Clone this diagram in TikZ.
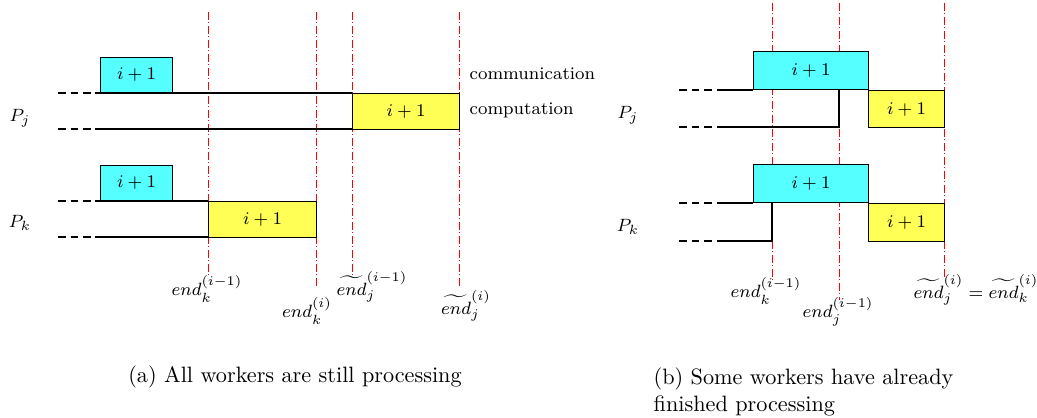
\documentclass[tikz,border=0pt]{standalone}
\usetikzlibrary{positioning}

\begin{document}
\begin{tikzpicture}[
    x=0.45pt, y=-0.45pt,
    every node/.style={font=\footnotesize, inner sep=1pt},
    commbox/.style={
        draw,
        fill=boxcyan,
        inner sep=0pt,
        line width=0.5pt,
        anchor=south west,
    },
    compbox/.style={
        draw,
        fill=boxyellow,
        inner sep=0pt,
        line width=0.5pt,
        anchor=north west,
    },
    tline/.style={line width=0.5pt},
    lead/.style={line width=0.5pt, dash pattern=on 3.5pt off 2.2pt},
    endline/.style={red, line width=0.4pt, dash pattern=on 3.4pt off 1.2pt on 0.5pt off 1.2pt},
    caption/.style={font=\normalsize}
]

% Colors
\definecolor{boxcyan}{HTML}{55FFFF}
\definecolor{boxyellow}{HTML}{FFFF55}

% Unit length (one pixel)
\def\u{0.45pt}

\useasboundingbox (0,0) rectangle (1037,417);

%%% (a) All workers are still processing

% End-time markers
\draw[endline] (208,12) -- (208,275);
\draw[endline] (316,12) -- (316,288);
\draw[endline] (352,12) -- (352,275);
\draw[endline] (459,12) -- (459,288);

% Processor P_j
\node (Pj) at (20,118) {$P_j$};
\coordinate (jc) at (58,93);
\coordinate (jp) at (58,129);
\node[commbox, minimum width=72*\u, minimum height=35*\u] (Cj) at (100,93) {$i+1$};
\node[compbox, minimum width=107*\u, minimum height=36*\u] (Yj) at (352,93) {$i+1$};
\draw[lead] (jc) -- ++(37,0) coordinate (jc1);
\draw[tline] (jc1) -- (jc1 -| Yj.west);
\draw[lead] (jp) -- ++(37,0) coordinate (jp1);
\draw[tline] (jp1) -- (jp1 -| Yj.west);

% Processor P_k
\node (Pk) at (20,223) {$P_k$};
\coordinate (kc) at (58,201);
\coordinate (kp) at (58,237);
\node[commbox, minimum width=72*\u, minimum height=35*\u] (Ck) at (100,201) {$i+1$};
\node[compbox, minimum width=108*\u, minimum height=36*\u] (Yk) at (208,201) {$i+1$};
\draw[lead] (kc) -- ++(37,0) coordinate (kc1);
\draw[tline] (kc1) -- (kc1 -| Yk.west);
\draw[lead] (kp) -- ++(37,0) coordinate (kp1);
\draw[tline] (kp1) -- (kp1 -| Yk.west);

% Row labels
\node[anchor=west] (comm) at (467,74) {communication};
\node[anchor=west] (comp) at (467,110) {computation};

% Marker labels
\node (ek0) at (207,289) {$end_k^{(i-1)}$};
\node (ek1) at (307,311) {$end_k^{(i)}$};
\node (tj0) at (372,287) {$\widetilde{end}_j^{(i-1)}$};
\node (tj1) at (466,306) {$\widetilde{end}_j^{(i)}$};

\node[caption] (capa) at (295,377) {(a)~All workers are still processing};

%%% (b) Some workers have already finished processing

% End-time markers
\draw[endline] (772,3) -- (772,280);
\draw[endline] (839,3) -- (839,300);
\draw[endline] (944,3) -- (944,277);

% Processor P_j
\node (Qj) at (628,115) {$P_j$};
\coordinate (qjc) at (679,90);
\coordinate (qjp) at (679,127);
\node[commbox, minimum width=115*\u, minimum height=38*\u] (Dj) at (753,90) {$i+1$};
\node[compbox, minimum width=76*\u, minimum height=37*\u] (Zj) at (868,90) {$i+1$};
\draw[lead] (qjc) -- ++(44,0) coordinate (qjc1);
\draw[tline] (qjc1) -- (Dj.south west);
\draw[lead] (qjp) -- ++(44,0) coordinate (qjp1);
\draw[tline] (qjp1) -- (839,127) -- (839,90);

% Processor P_k
\node (Qk) at (628,227) {$P_k$};
\coordinate (qkc) at (679,203);
\coordinate (qkp) at (679,241);
\node[commbox, minimum width=115*\u, minimum height=38*\u] (Dk) at (753,203) {$i+1$};
\node[compbox, minimum width=76*\u, minimum height=38*\u] (Zk) at (868,203) {$i+1$};
\draw[lead] (qkc) -- ++(44,0) coordinate (qkc1);
\draw[tline] (qkc1) -- (Dk.south west);
\draw[lead] (qkp) -- ++(44,0) coordinate (qkp1);
\draw[tline] (qkp1) -- (772,241) -- (772,203);

% Marker labels
\node (fk0) at (766,291) {$end_k^{(i-1)}$};
\node (fj0) at (838,312) {$end_j^{(i-1)}$};
\node (fjk) at (976,290) {$\widetilde{end}_j^{(i)}=\widetilde{end}_k^{(i)}$};

\node[caption, anchor=north west, align=left] (capb) at (651,365) {(b) Some workers have already\\finished processing};

\end{tikzpicture}
\end{document}
